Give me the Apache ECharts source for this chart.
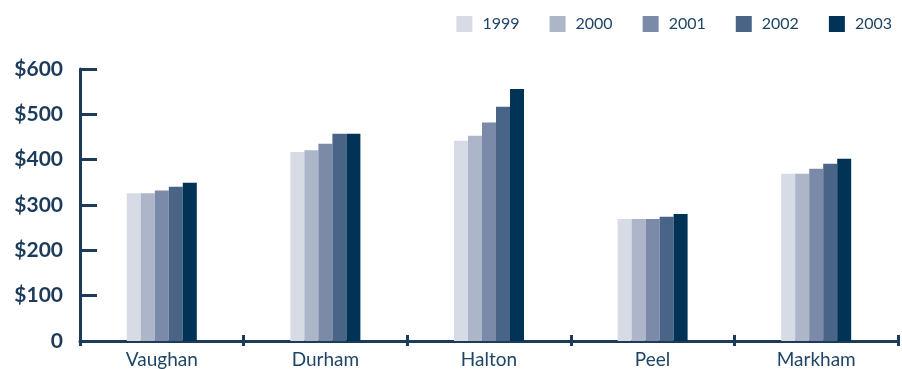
<!DOCTYPE html>
<html>
<head>
<meta charset="utf-8">
<script src="https://cdn.jsdelivr.net/npm/echarts@6/dist/echarts.min.js"></script>
<style>
  html, body { margin: 0; padding: 0; background: #fff; }
  #main { width: 902px; height: 369px; }
</style>
</head>
<body>
<div id="main"></div>
<script>
  var regions = ['Vaughan', 'Durham', 'Halton', 'Peel', 'Markham']
  var years = ['1999', '2000', '2001', '2002', '2003']
  var v1999 = [326, 417, 442, 269, 369]
  var v2000 = [326, 421, 453, 269, 369]
  var v2001 = [332, 435, 482, 269, 380]
  var v2002 = [340, 457, 517, 274, 391]
  var v2003 = [349, 457, 556, 280, 402]
  var yTicks = [0, 100, 200, 300, 400, 500, 600]

  var colors = ['#d6dbe5', '#adb5c9', '#7b8aa8', '#4a6488', '#003355']
  var navy = '#1c3b5a'
  var textColor = '#1f4566'
  var font = 'Lato, "Open Sans", sans-serif'

  var allValues = [v1999, v2000, v2001, v2002, v2003]

  var myChart = echarts.init(document.getElementById('main'))

  var option = {
    animation: false,
    color: colors,
    textStyle: { fontFamily: font },
    legend: {
      data: years,
      right: 5,
      top: 11,
      itemWidth: 16,
      itemHeight: 16,
      itemGap: 30,
      icon: 'rect',
      textStyle: { color: textColor, fontSize: 16, fontFamily: font, padding: [0, 0, 0, 5] }
    },
    grid: {
      left: 80,
      right: 4,
      top: 69,
      bottom: 28,
      containLabel: false
    },
    xAxis: [
      {
        type: 'category',
        data: regions,
        axisLine: { lineStyle: { color: navy, width: 3 } },
        axisTick: { show: true, length: 5, lineStyle: { color: navy, width: 3 } },
        axisLabel: { color: textColor, fontSize: 19, margin: 9, fontFamily: font }
      },
      {
        // second axis only to draw the upper half of the crossing ticks
        type: 'category',
        data: regions,
        position: 'bottom',
        axisLine: { show: false },
        axisTick: { show: true, inside: true, length: 6, lineStyle: { color: navy, width: 3 } },
        axisLabel: { show: false }
      }
    ],
    yAxis: {
      type: 'value',
      min: yTicks[0],
      max: yTicks[yTicks.length - 1],
      interval: 100,
      axisLine: { show: true, lineStyle: { color: navy, width: 3 } },
      axisTick: { show: true, inside: true, length: 17, lineStyle: { color: navy, width: 3 } },
      splitLine: { show: false },
      axisLabel: {
        color: navy,
        fontSize: 21,
        fontWeight: 'bold',
        margin: 17,
        fontFamily: font,
        formatter: function (v) {
          return v === 0 ? '0' : '$' + v
        }
      }
    },
    series: years.map(function (y, i) {
      return {
        name: y,
        type: 'bar',
        barWidth: 14,
        barGap: '0%',
        data: allValues[i]
      }
    })
  }

  myChart.setOption(option)
</script>
</body>
</html>
